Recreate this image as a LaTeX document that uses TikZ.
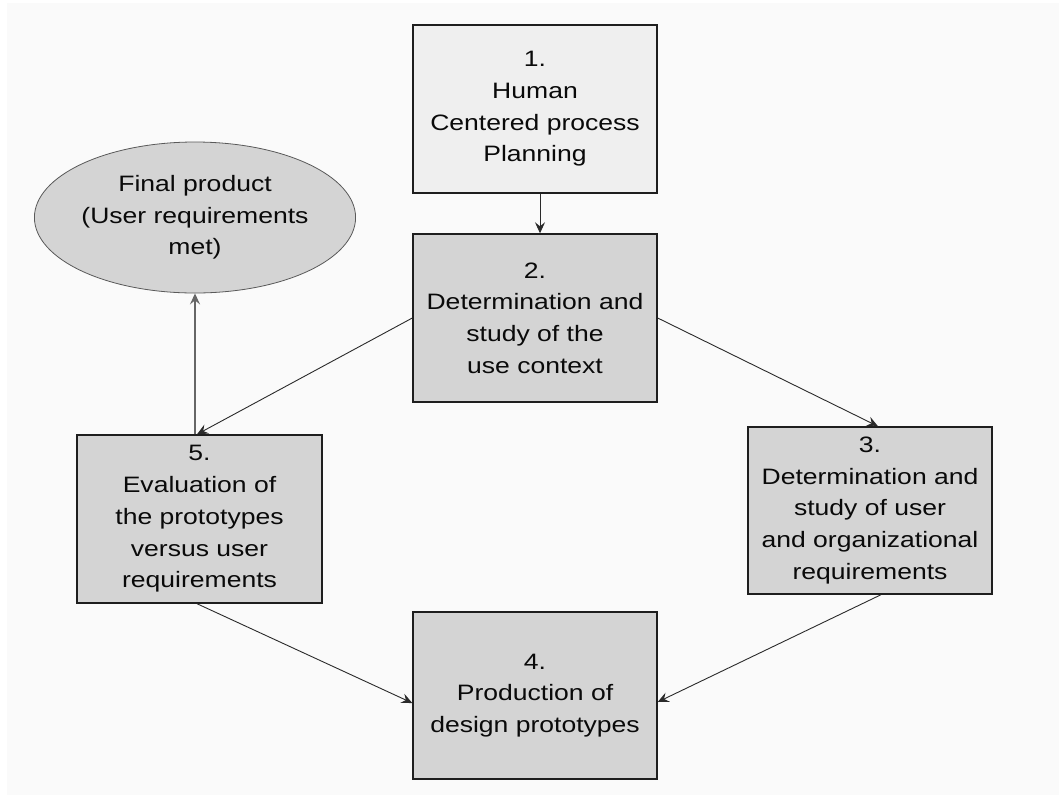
\documentclass[tikz,border=0pt]{standalone}
\usepackage{fontspec}
\setmainfont{Liberation Sans}[FakeStretch=1.19]
\usetikzlibrary{arrows.meta,calc,shapes.geometric}
\definecolor{bgc}{HTML}{FAFAFA}
\definecolor{boxfill}{HTML}{D4D4D4}
\definecolor{lightfill}{HTML}{EFEFEF}
\definecolor{edgec}{HTML}{1E1E1E}
\definecolor{arrowc}{HTML}{2A2A2A}
\definecolor{txt}{HTML}{0A0A0A}
\tikzset{
  stepbox/.style={draw=edgec, line width=1.4pt, fill=boxfill, rectangle,
    minimum width=244pt, minimum height=168pt, inner sep=0pt,
    align=center, text=txt, font=\fontsize{22.3}{31.7}\selectfont},
  endell/.style={draw=black!65, line width=0.8pt, fill=boxfill, ellipse,
    minimum width=234pt, minimum height=151pt, inner sep=0pt,
    align=center, text=txt, font=\fontsize{22.3}{31.7}\selectfont},
  flow/.style={draw=arrowc, line width=0.9pt,
    -{Stealth[length=11pt,width=10pt,inset=4pt]}},
  upflow/.style={draw=black!60, line width=1.5pt,
    -{Stealth[length=11pt,width=10pt,inset=4pt]}}
}
\begin{document}
\begin{tikzpicture}[x=1pt,y=-1pt]
\useasboundingbox (0,0) rectangle (1059,796);
\fill[white] (0,0) rectangle (1059,796);
\fill[bgc] (7,3) rectangle (1059,795);

\node[stepbox, fill=lightfill] (b1) at (535,109) {1.\\Human\\Centered process\\Planning};
\node[stepbox] (b2) at (535,318) {2.\\Determination and\\study of the\\use context};
\node[stepbox, minimum height=167pt] (b3) at (870,510.5) {3.\\Determination and\\study of user\\and organizational\\requirements};
\node[stepbox, minimum height=167pt] (b4) at (535,695.5) {4.\\Production of\\design prototypes};
\node[stepbox, minimum width=245pt] (b5) at (199.5,519) {5.\\Evaluation of\\the prototypes\\versus user\\requirements};
\node[endell] (fin) at (195,217.5) {Final product\\(User requirements\\met)};

\draw[flow] ($(b1.south)+(5,0)$) -- ($(b2.north)+(5,0)$);
\draw[flow] (b2.west) -- ($(b5.north -| fin.south)+(2,0)$);
\draw[upflow] (b5.north -| fin.south) -- (fin.south);
\draw[flow] (b2.east) -- ($(b3.north)+(8,0)$);
\draw[flow] ($(b3.south)+(11,0)$) -- ($(b4.east)+(0,6.5)$);
\draw[flow] ($(b5.south)+(-2.5,0)$) -- ($(b4.west)+(0,7.5)$);
\end{tikzpicture}
\end{document}
